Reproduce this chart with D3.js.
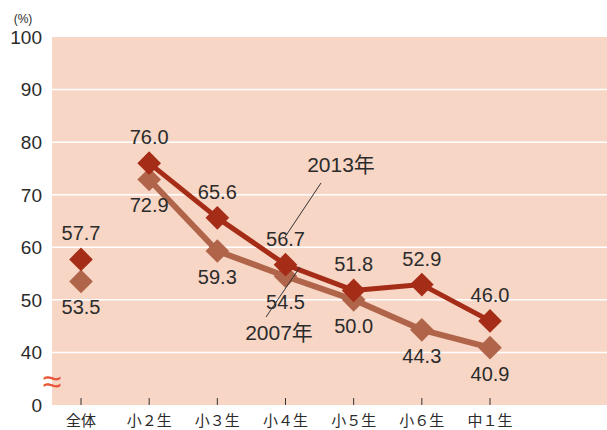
<!DOCTYPE html>
<html>
<head>
<meta charset="utf-8">
<title>Line Chart</title>
<script src="https://d3js.org/d3.v7.min.js"></script>
<style>
  body { margin: 0; padding: 0; background: #fff; }
  svg text { font-family: "Liberation Sans", "Noto Sans CJK JP", sans-serif; fill: #2b2b2b; }
</style>
</head>
<body>
<div id="chart"></div>
<script>
var categories = ["全体", "小２生", "小３生", "小４生", "小５生", "小６生", "中１生"];
var values2013 = [57.7, 76.0, 65.6, 56.7, 51.8, 52.9, 46.0];
var values2007 = [53.5, 72.9, 59.3, 54.5, 50.0, 44.3, 40.9];
var yTicks = [40, 50, 60, 70, 80, 90, 100];

var W = 607, H = 430;
var plotLeft = 52, plotTop = 37, plotBottom = 405;

var svg = d3.select("#chart").append("svg")
  .attr("width", W).attr("height", H);

// axis is broken below 40, "0" sits one step under 40
var y = d3.scaleLinear().domain([30, 100]).range([plotBottom, plotTop]);
var x = d3.scalePoint().domain(categories).range([81, 490]);

svg.append("rect")
  .attr("x", plotLeft).attr("y", plotTop)
  .attr("width", W - plotLeft).attr("height", plotBottom - plotTop)
  .attr("fill", "#f8d6c5");

svg.selectAll(".grid")
  .data(yTicks.filter(function (d) { return d < 100; }))
  .enter().append("line")
  .attr("x1", plotLeft).attr("x2", W)
  .attr("y1", function (d) { return y(d); })
  .attr("y2", function (d) { return y(d); })
  .attr("stroke", "#fff").attr("stroke-width", 1.5);

svg.selectAll(".ylab")
  .data(yTicks.concat([30]))
  .enter().append("text")
  .attr("x", 42)
  .attr("y", function (d) { return y(d); })
  .attr("dy", "0.36em")
  .attr("text-anchor", "end")
  .attr("font-size", 19)
  .text(function (d) { return d == 30 ? "0" : d; });

svg.append("text")
  .attr("x", 23).attr("y", 23)
  .attr("text-anchor", "middle")
  .attr("font-size", 12)
  .text("(%)");

svg.append("text")
  .attr("x", 52).attr("y", 381)
  .attr("dy", "0.35em")
  .attr("text-anchor", "middle")
  .attr("font-size", 34)
  .style("fill", "#e8573a")
  .text("≈");

// x ticks & labels
svg.selectAll(".xtick")
  .data(categories)
  .enter().append("line")
  .attr("x1", function (d) { return x(d); })
  .attr("x2", function (d) { return x(d); })
  .attr("y1", plotBottom - 7).attr("y2", plotBottom)
  .attr("stroke", "#333").attr("stroke-width", 1);

svg.selectAll(".xlab")
  .data(categories)
  .enter().append("text")
  .attr("x", function (d) { return x(d); })
  .attr("y", 421)
  .attr("dy", "0.35em")
  .attr("text-anchor", "middle")
  .attr("font-size", 15)
  .text(function (d) { return d; });

var series = [
  { name: "2007", values: values2007, color: "#b0654b", width: 6, labelDy: 26 },
  { name: "2013", values: values2013, color: "#a52c17", width: 5, labelDy: -26 }
];

var line = d3.line()
  .x(function (d) { return x(d.cat); })
  .y(function (d) { return y(d.v); });

series.forEach(function (s) {
  var pts = s.values.map(function (v, i) { return { cat: categories[i], v: v }; });
  svg.append("path")
    .datum(pts.slice(1))
    .attr("d", line)
    .attr("fill", "none")
    .attr("stroke", s.color)
    .attr("stroke-width", s.width)
    .attr("stroke-linejoin", "round");

  svg.selectAll(".m" + s.name)
    .data(pts)
    .enter().append("path")
    .attr("d", d3.symbol().type(d3.symbolSquare).size(280))
    .attr("transform", function (d) { return "translate(" + x(d.cat) + "," + y(d.v) + ") rotate(45)"; })
    .attr("fill", s.color);

  svg.selectAll(".l" + s.name)
    .data(pts)
    .enter().append("text")
    .attr("x", function (d) { return x(d.cat); })
    .attr("y", function (d) { return y(d.v) + s.labelDy; })
    .attr("dy", "0.35em")
    .attr("text-anchor", "middle")
    .attr("font-size", 20)
    .text(function (d) { return d.v.toFixed(1); });
});

// annotations
svg.append("line")
  .attr("x1", 321).attr("y1", 183).attr("x2", 285).attr("y2", 237)
  .attr("stroke", "#333").attr("stroke-width", 1);
svg.append("text")
  .attr("x", 341).attr("y", 165).attr("dy", "0.35em")
  .attr("text-anchor", "middle").attr("font-size", 21)
  .text("2013年");

svg.append("line")
  .attr("x1", 300).attr("y1", 267).attr("x2", 266).attr("y2", 317)
  .attr("stroke", "#333").attr("stroke-width", 1);
svg.append("text")
  .attr("x", 279).attr("y", 333).attr("dy", "0.35em")
  .attr("text-anchor", "middle").attr("font-size", 21)
  .text("2007年");
</script>
</body>
</html>
